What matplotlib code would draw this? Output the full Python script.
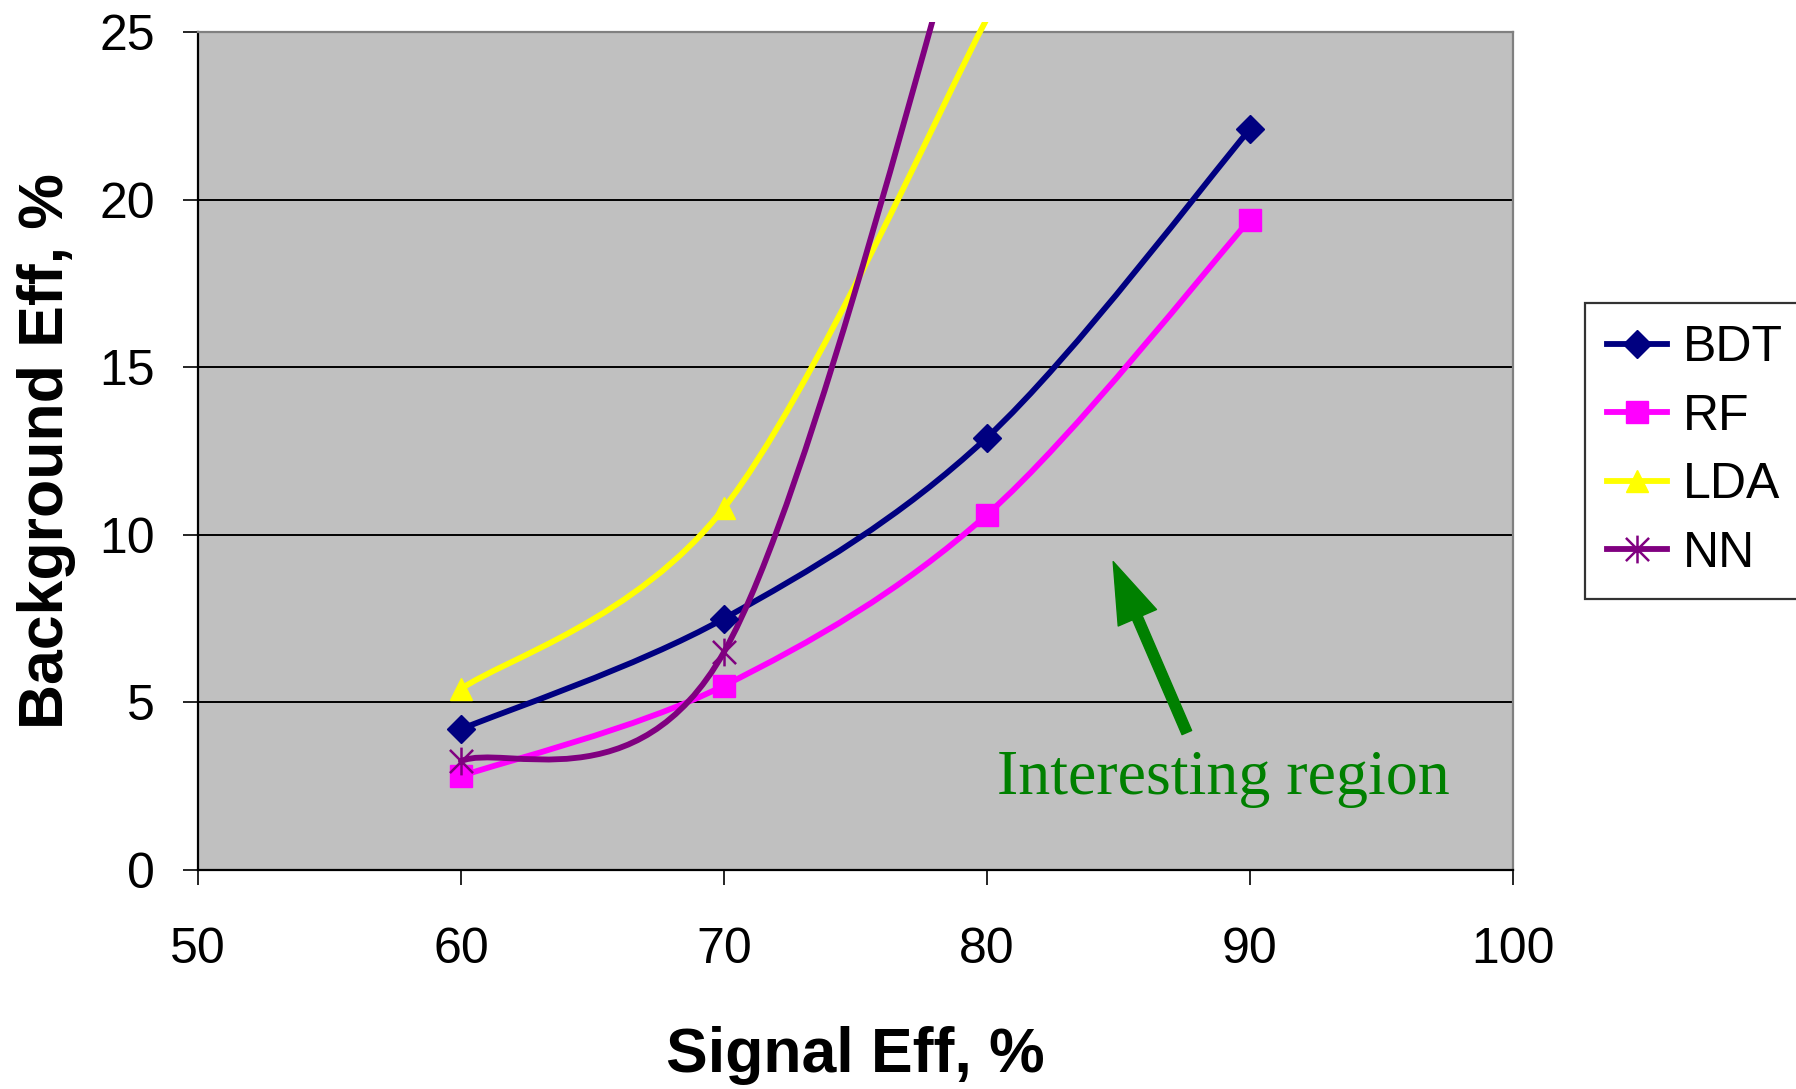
import numpy as np
import matplotlib
matplotlib.use("Agg")
import matplotlib.pyplot as plt
from matplotlib.path import Path
from matplotlib.patches import PathPatch, Rectangle
from matplotlib.lines import Line2D

# Данные
signal_eff = [60, 70, 80, 90]
bdt = [4.2, 7.5, 12.9, 22.1]
rf = [2.8, 5.5, 10.6, 19.4]
lda_x = [60, 70, 80]
lda = [5.4, 10.8, 25.4]
nn_x = [60, 70, 80]
nn = [3.25, 6.5, 31.0]

# маркер "звёздочка" как в Excel: X + вертикальная черта
star = Path([(-1, -1), (1, 1), (-1, 1), (1, -1), (0, -1.2), (0, 1.2)],
            [Path.MOVETO, Path.LINETO] * 3)

series = [
    ("BDT", signal_eff, bdt, "#000080", "D", 14),
    ("RF", signal_eff, rf, "#FF00FF", "s", 15.5),
    ("LDA", lda_x, lda, "#FFFF00", "^", 16),
    ("NN", nn_x, nn, "#800080", star, 20),
]

plt.rcParams["font.family"] = ["Liberation Sans", "DejaVu Sans"]


def smooth_path(xs, ys):
    """Сглаженная линия как в Excel (кривые Безье)."""
    pts = np.column_stack([xs, ys]).astype(float)
    n = len(pts)
    verts = [pts[0]]
    codes = [Path.MOVETO]
    for i in range(n - 1):
        p0 = pts[max(i - 1, 0)]
        p1 = pts[i]
        p2 = pts[i + 1]
        p3 = pts[min(i + 2, n - 1)]
        verts += [p1 + (p2 - p0) / 6, p2 - (p3 - p1) / 6, p2]
        codes += [Path.CURVE4] * 3
    return Path(verts, codes)


fig = plt.figure(figsize=(17.96, 10.89), dpi=100)
ax = fig.add_axes([0.1102, 0.2011, 0.7322, 0.7695])
ax.set_facecolor("#C0C0C0")

handles = []
for name, xs, ys, color, marker, ms in series:
    patch = PathPatch(smooth_path(xs, ys), facecolor="none", edgecolor=color,
                      lw=4.2, capstyle="round", zorder=3)
    ax.add_patch(patch)
    clip = Rectangle((0, 0), 1, 1.012, transform=ax.transAxes)
    patch.set_clip_path(clip)
    mew = 1.8 if marker is star else 1
    ax.plot(xs, ys, ls="none", marker=marker, ms=ms, color=color, mec=color,
            mew=mew, zorder=4)
    handles.append(Line2D([], [], color=color, lw=4.2, marker=marker, ms=ms,
                          mec=color, mew=mew, label=name))

ax.set_xlim(50, 100)
ax.set_ylim(0, 25)
ax.set_xticks([50, 60, 70, 80, 90, 100])
ax.set_yticks([0, 5, 10, 15, 20, 25])
ax.grid(axis="y", color="black", lw=1.4)
ax.set_axisbelow(True)

for s in ["left", "bottom"]:
    ax.spines[s].set_color("black")
    ax.spines[s].set_linewidth(1.6)
for s in ["top", "right"]:
    ax.spines[s].set_color("#808080")
    ax.spines[s].set_linewidth(1.6)

ax.tick_params(axis="x", length=11, width=1.2, direction="out", pad=30, labelsize=36)
ax.tick_params(axis="y", length=11, width=1.2, direction="out", pad=20, labelsize=36)

ax.set_xlabel("Signal Eff, %", fontsize=45, fontweight="bold", labelpad=38)
ax.set_ylabel("Background Eff, %", fontsize=45, fontweight="bold", labelpad=17)

# Стрелка и подпись
ax.annotate("", xy=(84.8, 9.2), xytext=(87.6, 4.1),
            arrowprops=dict(color="#008000", width=7.5, headwidth=30,
                            headlength=44, shrink=0))
ax.text(89.0, 2.7, "Interesting region", color="#008000", fontsize=46,
        family=["Liberation Serif", "DejaVu Serif"], ha="center", va="center")

leg = fig.legend(handles=handles, loc="center left", bbox_to_anchor=(0.8825, 0.586),
                 fontsize=36, frameon=True, fancybox=False, edgecolor="black",
                 handlelength=1.2, handletextpad=0.3, labelspacing=0.45,
                 borderpad=0.45, borderaxespad=0)
leg.get_frame().set_linewidth(1.6)

fig.savefig("out.png", dpi=100, facecolor="white")
